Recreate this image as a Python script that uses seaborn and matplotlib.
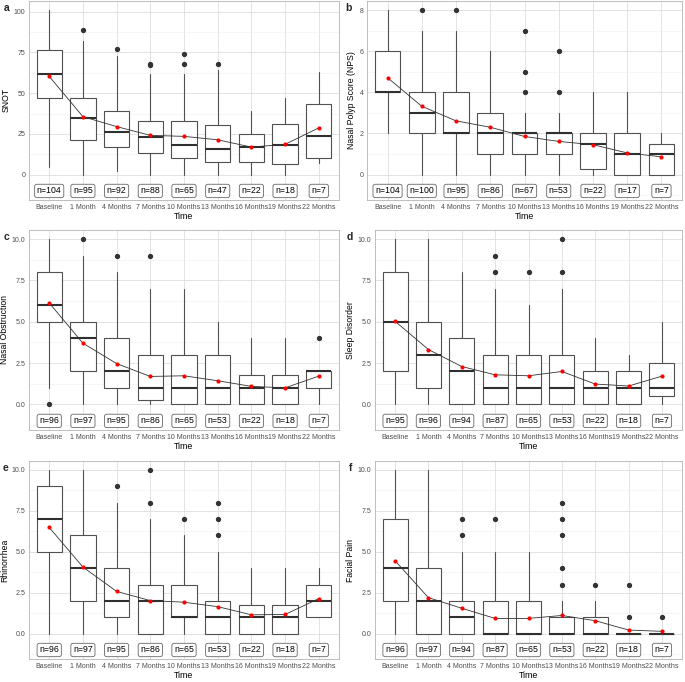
import matplotlib
matplotlib.use("Agg")
import matplotlib.pyplot as plt
import seaborn as sns
import numpy as np
from matplotlib.ticker import MultipleLocator

time_labels = ["Baseline", "1 Month", "4 Months", "7 Months", "10 Months",
               "13 Months", "16 Months", "19 Months", "22 Months"]

# a: SNOT
snot_q1 = [47.25, 21, 17, 13, 10, 8, 8, 6.5, 10]
snot_med = [61.5, 35, 26, 23, 18, 16, 17, 18.5, 24]
snot_q3 = [76.5, 47, 39.25, 33, 33, 30.75, 24.75, 31.25, 43.5]
snot_lo = [5, 0, 2, 0, 0, 0, 0, 0, 7]
snot_hi = [101, 82, 73, 62, 62, 64, 39, 47, 63]
snot_mean = [60.3, 35.6, 29.5, 24.1, 23.5, 21.4, 16.9, 18.6, 28.7]
snot_out = [[], [89], [77], [67, 68], [68, 74], [68], [], [], []]
snot_n = [104, 95, 92, 88, 65, 47, 22, 18, 7]

# b: Nasal Polyp Score
nps_q1 = [4, 2, 2, 1, 1, 1, 0.25, 0, 0]
nps_med = [4, 3, 2, 2, 2, 2, 1.5, 1, 1]
nps_q3 = [6, 4, 4, 3, 2, 2, 2, 2, 1.5]
nps_lo = [2, 0, 0, 0, 0, 0, 0, 0, 0]
nps_hi = [8, 7, 7, 6, 3, 3, 4, 4, 2]
nps_mean = [4.71, 3.32, 2.61, 2.30, 1.85, 1.61, 1.45, 1.05, 0.86]
nps_out = [[], [8], [8], [], [4, 5, 7], [4, 6], [], [], []]
nps_n = [104, 100, 95, 86, 67, 53, 22, 17, 7]

# c: Nasal Obstruction
obs_q1 = [5, 2, 1, 0.25, 0, 0, 0, 0, 1]
obs_med = [6, 4, 2, 1, 1, 1, 1, 1, 2]
obs_q3 = [8, 5, 4, 3, 3, 3, 1.75, 1.75, 2]
obs_lo = [1, 0, 0, 0, 0, 0, 0, 0, 0]
obs_hi = [10, 9, 8, 7, 7, 5, 4, 4, 2]
obs_mean = [6.14, 3.70, 2.47, 1.69, 1.73, 1.43, 1.09, 1.00, 1.71]
obs_out = [[0], [10], [9], [9], [], [], [], [], [4]]
obs_n = [96, 97, 95, 86, 65, 53, 22, 18, 7]

# d: Sleep Disorder
slp_q1 = [2, 1, 0, 0, 0, 0, 0, 0, 0.5]
slp_med = [5, 3, 2, 1, 1, 1, 1, 1, 1]
slp_q3 = [8, 5, 4, 3, 3, 3, 2, 2, 2.5]
slp_lo = [0, 0, 0, 0, 0, 0, 0, 0, 0]
slp_hi = [10, 10, 8, 7, 6, 7, 4, 3, 5]
slp_mean = [5.03, 3.32, 2.29, 1.79, 1.73, 1.99, 1.23, 1.11, 1.71]
slp_out = [[], [], [], [8, 9], [8], [8, 10], [], [], []]
slp_n = [95, 96, 94, 87, 65, 53, 22, 18, 7]

# e: Rhinorrhea
rhi_q1 = [5, 2, 1, 0, 1, 0, 0, 0, 1]
rhi_med = [7, 4, 2, 2, 1, 1, 1, 1, 2]
rhi_q3 = [9, 6, 4, 3, 3, 2, 1.75, 1.75, 3]
rhi_lo = [0, 0, 0, 0, 0, 0, 0, 0, 1]
rhi_hi = [10, 10, 8, 7, 6, 5, 4, 4, 4]
rhi_mean = [6.49, 4.07, 2.58, 2.02, 1.92, 1.65, 1.15, 1.17, 2.14]
rhi_out = [[], [], [9], [8, 10], [7], [6, 7, 8], [], [], []]
rhi_n = [96, 97, 95, 86, 65, 53, 22, 18, 7]

# f: Facial Pain
fac_q1 = [2, 0, 0, 0, 0, 0, 0, 0, 0]
fac_med = [4, 2, 1, 0, 0, 0, 0, 0, 0]
fac_q3 = [7, 4, 2, 2, 2, 1, 1, 0, 0]
fac_lo = [0, 0, 0, 0, 0, 0, 0, 0, 0]
fac_hi = [10, 10, 5, 5, 5, 2, 2, 0, 0]
fac_mean = [4.46, 2.20, 1.55, 0.93, 0.93, 1.11, 0.79, 0.22, 0.14]
fac_out = [[], [], [6, 7], [7], [], [3, 4, 6, 7, 8], [3], [1, 3], [1]]
fac_n = [96, 97, 94, 87, 65, 53, 22, 18, 7]

sns.set_theme(style="whitegrid")
plt.rcParams["font.family"] = ["Liberation Sans", "DejaVu Sans"]

W, H = 685, 682
fig = plt.figure(figsize=(W / 100, H / 100), dpi=100)
fig.patch.set_facecolor("white")

panels = [
    ("a", "SNOT", snot_q1, snot_med, snot_q3, snot_lo, snot_hi, snot_mean, snot_out, snot_n,
     (29, 1, 339, 200), (-15.55, 106.55), 25, 12.5, -10, "{:.0f}", (4, 8)),
    ("b", "Nasal Polyp Score (NPS)", nps_q1, nps_med, nps_q3, nps_lo, nps_hi, nps_mean, nps_out, nps_n,
     (367, 1, 682, 200), (-1.24, 8.44), 2, 1, -0.8, "{:.0f}", (345, 8)),
    ("c", "Nasal Obstruction", obs_q1, obs_med, obs_q3, obs_lo, obs_hi, obs_mean, obs_out, obs_n,
     (29, 230, 339, 430), (-1.55, 10.55), 2.5, 1.25, -1, "{:.1f}", (4, 237)),
    ("d", "Sleep Disorder", slp_q1, slp_med, slp_q3, slp_lo, slp_hi, slp_mean, slp_out, slp_n,
     (375, 230, 682, 430), (-1.55, 10.55), 2.5, 1.25, -1, "{:.1f}", (347, 237)),
    ("e", "Rhinorrhea", rhi_q1, rhi_med, rhi_q3, rhi_lo, rhi_hi, rhi_mean, rhi_out, rhi_n,
     (29, 461, 339, 659), (-1.55, 10.55), 2.5, 1.25, -1, "{:.1f}", (3, 468)),
    ("f", "Facial Pain", fac_q1, fac_med, fac_q3, fac_lo, fac_hi, fac_mean, fac_out, fac_n,
     (375, 461, 682, 659), (-1.55, 10.55), 2.5, 1.25, -1, "{:.1f}", (349, 468)),
]

pos = np.arange(len(time_labels))

for (letter, ylab, q1, med, q3, lo, hi, mean, out, n, box, ylim, major, minor,
     laby, fmt, lpos) in panels:
    l, t, r, b = box
    ax = fig.add_axes([l / W, 1 - b / H, (r - l) / W, (b - t) / H])
    ax.set_facecolor("white")
    stats = []
    for i in range(len(time_labels)):
        stats.append(dict(q1=q1[i], med=med[i], q3=q3[i], whislo=lo[i], whishi=hi[i],
                          fliers=out[i], label=time_labels[i]))
    ax.bxp(stats, positions=pos, widths=0.75, patch_artist=True, showcaps=False,
           boxprops=dict(facecolor="white", edgecolor="#505050", linewidth=0.8),
           whiskerprops=dict(color="#505050", linewidth=0.8),
           medianprops=dict(color="#303030", linewidth=1.5),
           flierprops=dict(marker="o", markersize=2.8, markerfacecolor="#333333",
                           markeredgecolor="#333333", linestyle="none"),
           zorder=2)
    sns.lineplot(x=pos, y=mean, ax=ax, color="#333333", linewidth=0.6, zorder=3,
                 estimator=None, sort=False)
    sns.scatterplot(x=pos, y=mean, ax=ax, color="#FF0000", s=9, linewidth=0, zorder=4)
    for i, nv in enumerate(n):
        ax.text(pos[i], laby, f"n={nv}", ha="center", va="center", fontsize=6.3,
                color="black", zorder=5,
                bbox=dict(boxstyle="round,pad=0.25,rounding_size=0.25", fc="white",
                          ec="#666666", lw=0.6))
    ax.set_xlim(-0.6, len(time_labels) - 0.4)
    ax.set_ylim(*ylim)
    ax.yaxis.set_major_locator(MultipleLocator(major))
    ax.yaxis.set_minor_locator(MultipleLocator(minor))
    ax.set_yticks([v for v in ax.get_yticks() if 0 <= v <= ylim[1]])
    ax.set_yticklabels([fmt.format(v) for v in ax.get_yticks()])
    ax.set_ylim(*ylim)
    ax.set_xticks(pos)
    ax.set_xticklabels(time_labels)
    ax.grid(which="major", color="#DEDEDE", linewidth=0.6, zorder=0)
    ax.grid(which="minor", axis="y", color="#F0F0F0", linewidth=0.4, zorder=0)
    ax.set_axisbelow(True)
    ax.tick_params(axis="both", which="major", labelsize=5.0, colors="#B3B3B3",
                   labelcolor="#4D4D4D", length=1.5, width=0.5, pad=1.2)
    ax.tick_params(axis="both", which="minor", length=0)
    for s in ax.spines.values():
        s.set_color("#B3B3B3")
        s.set_linewidth(0.6)
        s.set_visible(True)
    ax.set_xlabel("Time", fontsize=6.4, labelpad=0.8, color="black")
    ax.set_ylabel(ylab, fontsize=6.2, labelpad=2, color="black")
    fig.text(lpos[0] / W, 1 - lpos[1] / H, letter, fontsize=7.5, fontweight="bold",
             ha="left", va="center")

fig.savefig("out.png", dpi=100, facecolor="white")
